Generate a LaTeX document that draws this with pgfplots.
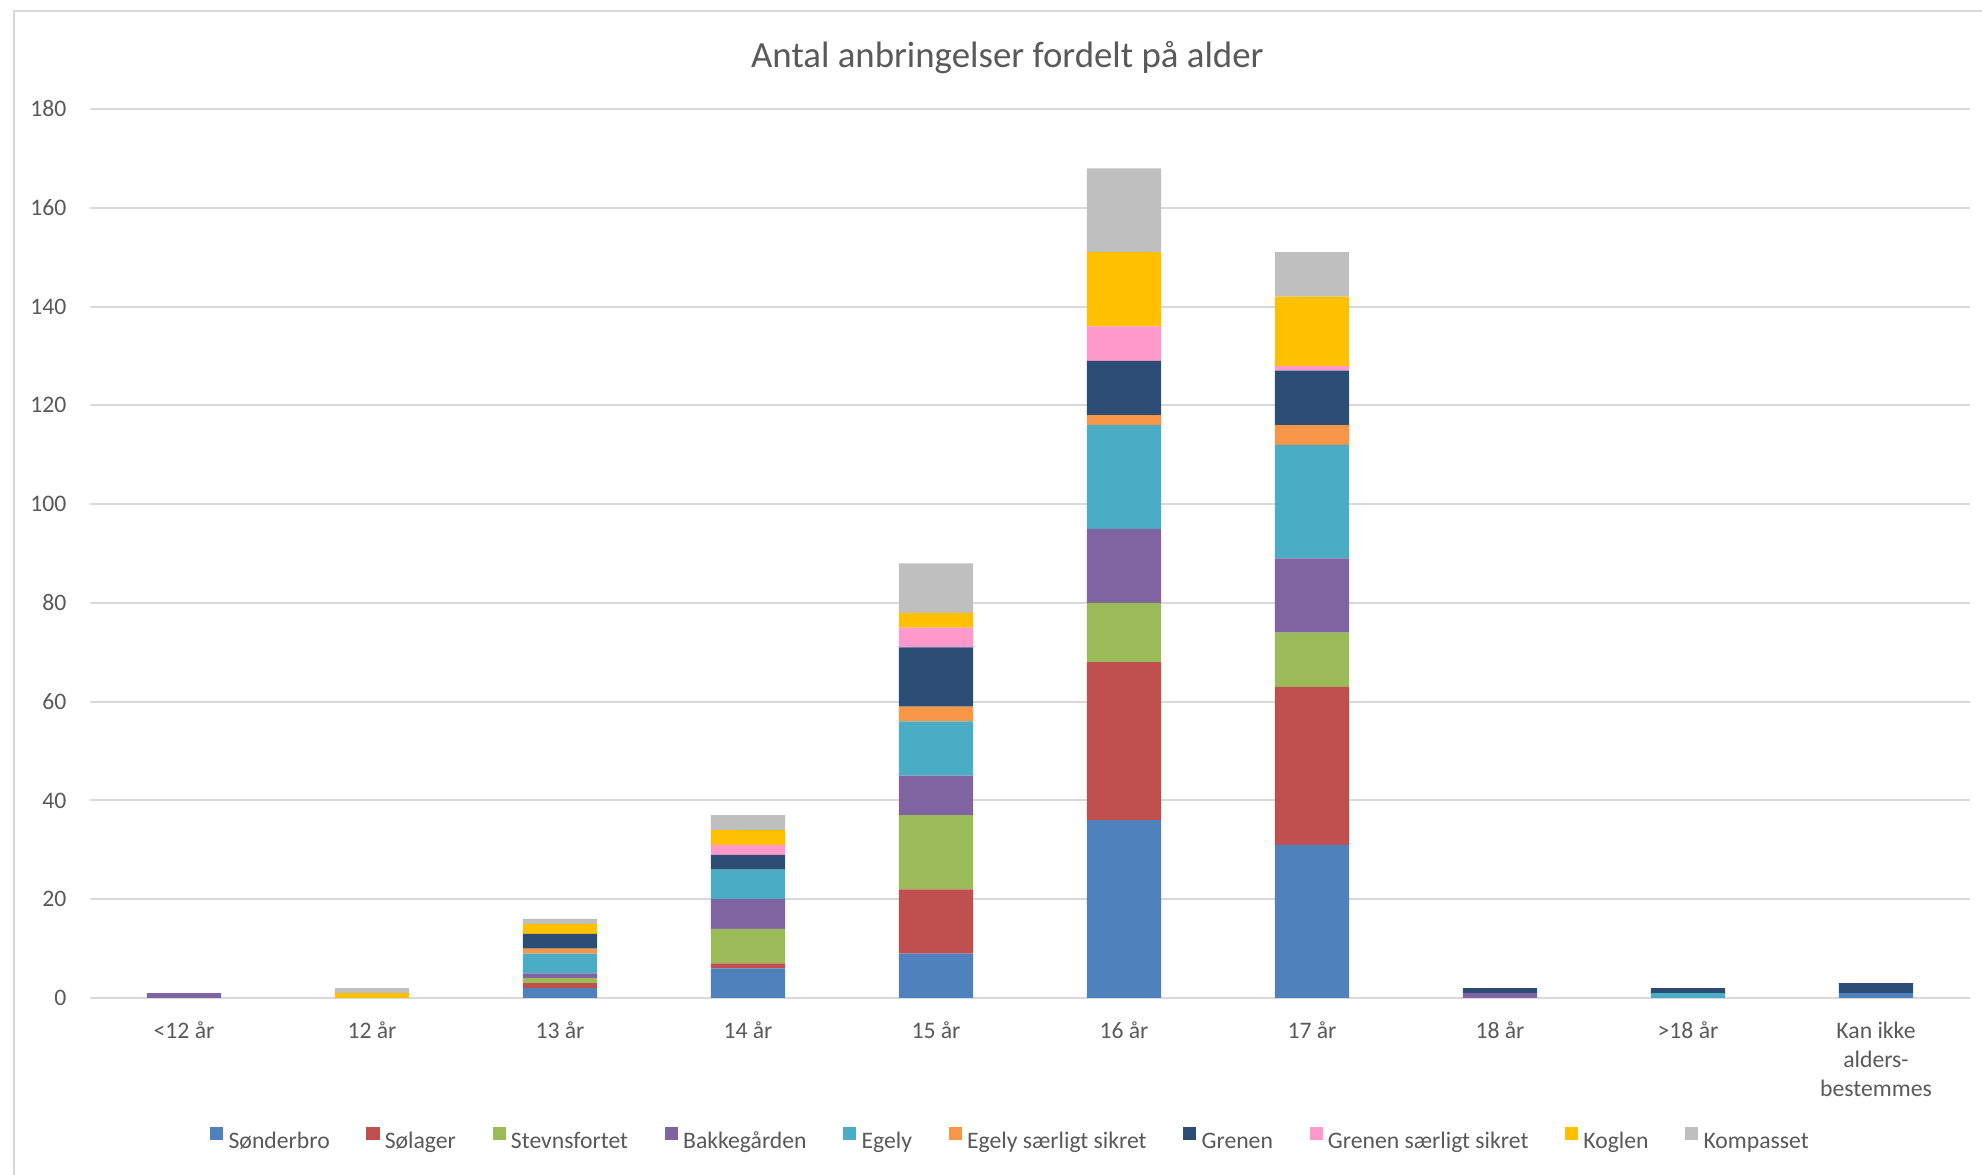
\documentclass[border=0pt]{standalone}
\usepackage{fontspec}
\setmainfont{Carlito}
\usepackage{pgfplots}
\pgfplotsset{compat=1.18}
\usepackage{pgfplotstable}
\definecolor{c1}{HTML}{4F81BD}
\definecolor{c2}{HTML}{C0504D}
\definecolor{c3}{HTML}{9BBB59}
\definecolor{c4}{HTML}{8064A2}
\definecolor{c5}{HTML}{4BACC6}
\definecolor{c6}{HTML}{F79646}
\definecolor{c7}{HTML}{2C4D75}
\definecolor{c8}{HTML}{FF99CC}
\definecolor{c9}{HTML}{FFC000}
\definecolor{c10}{HTML}{BFBFBF}
\definecolor{gridgray}{HTML}{D9D9D9}
\definecolor{txt}{HTML}{595959}
\pgfplotstableread{
x s1 s2 s3 s4 s5 s6 s7 s8 s9 s10
0 0 0 0 1 0 0 0 0 0 0
1 0 0 0 0 0 0 0 0 1 1
2 2 1 1 1 4 1 3 0 2 1
3 6 1 7 6 6 0 3 2 3 3
4 9 13 15 8 11 3 12 4 3 10
5 36 32 12 15 21 2 11 7 15 17
6 31 32 11 15 23 4 11 1 14 9
7 0 0 0 1 0 0 1 0 0 0
8 0 0 0 0 1 0 1 0 0 0
9 1 0 0 0 0 0 2 0 0 0
}\data
\begin{document}
\begin{tikzpicture}
\useasboundingbox (0,0) rectangle (753.16pt,446.5pt);
\draw[gridgray, line width=0.6pt] (5.32pt,-5pt) -- (5.32pt,442.32pt) -- (760pt,442.32pt);
\node[font=\fontsize{14}{17}\selectfont, text=txt] at (382.8pt,424.6pt) {Antal anbringelser fordelt på alder};
\begin{axis}[
  at={(34.2pt,67.26pt)}, anchor=south west, scale only axis,
  width=714.4pt, height=337.82pt,
  ybar stacked, bar width=0.395,
  xmin=-0.5, xmax=9.5, ymin=0, ymax=180,
  ytick={0,20,...,180},
  xtick={0,...,9},
  xticklabels={{<12 år},{12 år},{13 år},{14 år},{15 år},{16 år},{17 år},{18 år},{>18 år},{Kan ikke\\alders-\\bestemmes}},
  axis x line=bottom, axis y line=left,
  axis line style={draw=none,-},
  major tick length=0pt, tick style={draw=none},
  ymajorgrids, grid style={draw=gridgray, line width=0.75pt},
  /pgf/number format/assume math mode=true,
  yticklabel style={font=\fontsize{9}{11}\selectfont, text=txt, xshift=-5.4pt},
  xticklabel style={font=\fontsize{9}{11}\selectfont, text=txt, align=center, yshift=-5.5pt},
  legend columns=10,
  legend style={draw=none, at={(0.4905,-0.1605)}, anchor=center,
    font=\fontsize{9}{11}\selectfont, text=txt,
    /tikz/every even column/.append style={column sep=11.9pt}},
  legend image code/.code={\fill[#1,draw=none] (0pt,0.2pt) rectangle (5pt,5.2pt);},
]
\addplot[fill=c1, draw=none] table[x=x, y=s1] {\data};
\addplot[fill=c2, draw=none] table[x=x, y=s2] {\data};
\addplot[fill=c3, draw=none] table[x=x, y=s3] {\data};
\addplot[fill=c4, draw=none] table[x=x, y=s4] {\data};
\addplot[fill=c5, draw=none] table[x=x, y=s5] {\data};
\addplot[fill=c6, draw=none] table[x=x, y=s6] {\data};
\addplot[fill=c7, draw=none] table[x=x, y=s7] {\data};
\addplot[fill=c8, draw=none] table[x=x, y=s8] {\data};
\addplot[fill=c9, draw=none] table[x=x, y=s9] {\data};
\addplot[fill=c10, draw=none] table[x=x, y=s10] {\data};
\legend{\strut Sønderbro, \strut Sølager, \strut Stevnsfortet, \strut Bakkegården, \strut Egely, \strut Egely særligt sikret, \strut Grenen, \strut Grenen særligt sikret, \strut Koglen, \strut Kompasset}
\end{axis}
\end{tikzpicture}
\end{document}
